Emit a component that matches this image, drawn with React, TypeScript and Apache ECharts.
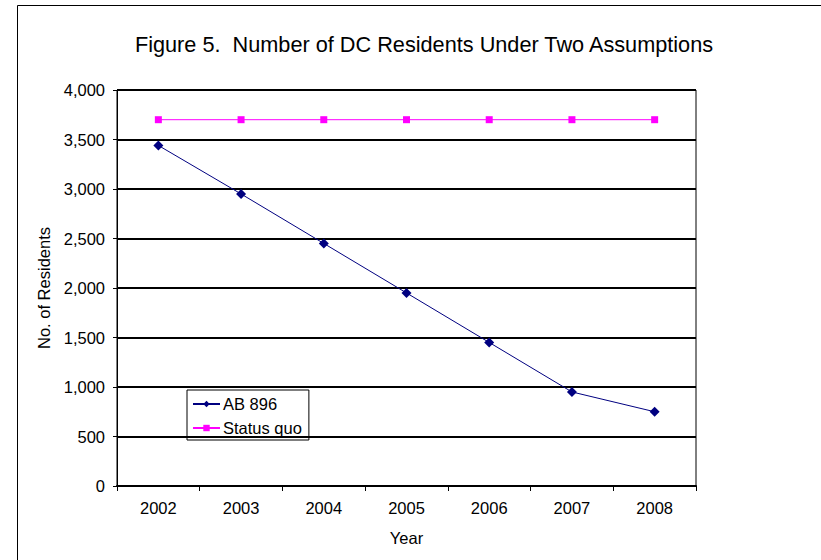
import React, { useEffect, useRef } from "react";
import * as echarts from "echarts";

const years = ["2002", "2003", "2004", "2005", "2006", "2007", "2008"];
const ab896 = [3440, 2950, 2450, 1950, 1450, 950, 750];
const statusQuo = [3700, 3700, 3700, 3700, 3700, 3700, 3700];

const FONT = "'Liberation Sans', Arial, sans-serif";
const SMALL = 16.5;

export default function App() {
  const ref = useRef<HTMLDivElement>(null);

  useEffect(() => {
    if (!ref.current) return;
    const chart = echarts.init(ref.current, null, { renderer: "svg" });
    chart.setOption({
      animation: false,
      backgroundColor: "#fff",
      textStyle: { fontFamily: FONT, color: "#000" },
      title: {
        text: "Figure 5.  Number of DC Residents Under Two Assumptions",
        left: 419,
        textAlign: "center",
        top: 28,
        textStyle: { fontFamily: FONT, fontSize: 21.7, fontWeight: "normal", color: "#000" },
      },
      graphic: [
        {
          type: "rect",
          shape: { x: 17.5, y: 5.5, width: 900, height: 700 },
          style: { fill: "none", stroke: "#000", lineWidth: 1 },
          silent: true,
        },
      ],
      legend: {
        orient: "vertical",
        left: 187,
        top: 390,
        borderColor: "#000",
        borderWidth: 1,
        padding: [5, 7, 3, 5],
        itemGap: 6,
        itemWidth: 27,
        itemHeight: 8,
        textStyle: {
          fontFamily: FONT,
          fontSize: SMALL,
          lineHeight: 18,
          color: "#000",
          padding: [0, 0, 0, -2],
        },
        data: ["AB 896", "Status quo"],
      },
      grid: {
        left: 117,
        top: 90,
        right: 125,
        bottom: 74,
        show: true,
        borderColor: "#000",
        borderWidth: 1,
        containLabel: false,
      },
      xAxis: {
        type: "category",
        data: years,
        boundaryGap: true,
        name: "Year",
        nameLocation: "middle",
        nameGap: 43,
        nameTextStyle: { fontFamily: FONT, fontSize: SMALL, color: "#000" },
        axisLine: { show: true, lineStyle: { color: "#000", width: 2 } },
        axisTick: { show: true, alignWithLabel: false, length: 5, inside: false, lineStyle: { color: "#000", width: 1 } },
        axisLabel: { fontFamily: FONT, fontSize: SMALL, color: "#000", margin: 13 },
        splitLine: { show: false },
      },
      yAxis: {
        type: "value",
        min: 0,
        max: 4000,
        interval: 500,
        name: "No. of Residents",
        nameLocation: "middle",
        nameGap: 64,
        nameTextStyle: { fontFamily: FONT, fontSize: SMALL, color: "#000" },
        axisLine: { show: true, lineStyle: { color: "#000", width: 1 } },
        axisTick: { show: true, length: 4, lineStyle: { color: "#000", width: 1 } },
        axisLabel: {
          fontFamily: FONT,
          fontSize: SMALL,
          color: "#000",
          margin: 12,
          formatter: (v: number) => v.toLocaleString("en-US"),
        },
        splitLine: { show: true, lineStyle: { color: "#000", width: 2 } },
      },
      series: [
        {
          name: "AB 896",
          type: "line",
          data: ab896,
          symbol: "diamond",
          symbolSize: 10,
          color: "#000080",
          lineStyle: { color: "#000080", width: 1 },
          itemStyle: { color: "#000080" },
        },
        {
          name: "Status quo",
          type: "line",
          data: statusQuo,
          symbol: "rect",
          symbolSize: 7,
          color: "#FF00FF",
          lineStyle: { color: "#FF00FF", width: 1 },
          itemStyle: { color: "#FF00FF" },
        },
      ],
    });
    return () => chart.dispose();
  }, []);

  return (
    <div
      ref={ref}
      style={{ position: "fixed", left: 0, top: 0, width: 821, height: 560 }}
    />
  );
}
